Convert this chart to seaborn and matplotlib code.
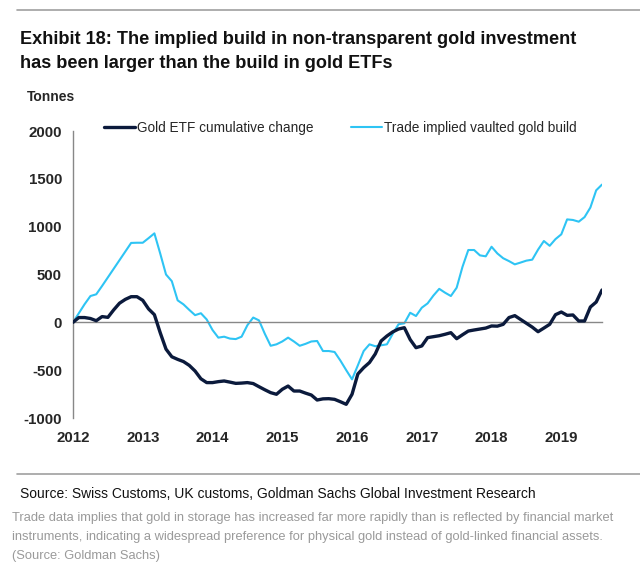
import numpy as np
import pandas as pd
import matplotlib
matplotlib.use("Agg")
import matplotlib.pyplot as plt
import seaborn as sns

# Monthly values, Jan 2012 .. Aug 2019 (tonnes)
etf_change = [
    0, 50, 50, 40, 17, 60, 52, 130, 200, 240, 268, 268,
    230, 140, 80, -108, -280, -360, -387, -410, -450, -509, -590, -630,
    -630, -620, -613, -625, -638, -635, -630, -640, -673, -705, -735, -752,
    -700, -666, -718, -718, -740, -760, -812, -800, -798, -805, -830, -857,
    -752, -540, -474, -420, -330, -195, -143, -100, -70, -56, -180, -265,
    -247, -160, -150, -140, -125, -108, -171, -130, -91, -80, -70, -60,
    -38, -40, -21, 50, 70, 30, -10, -50, -98, -60, -21, 80,
    108, 73, 77, 14, 14, 160, 212, 338,
]
vaulted_build = [
    0, 95, 190, 275, 293, 380, 470, 560, 650, 740, 830, 832,
    832, 880, 930, 720, 500, 430, 230, 188, 130, 75, 95, 30,
    -80, -160, -150, -170, -175, -150, -30, 50, 20, -120, -245, -230,
    -200, -160, -200, -245, -225, -200, -195, -300, -300, -310, -400, -500,
    -596, -450, -300, -230, -250, -240, -230, -120, -20, -10, 100, 66,
    153, 198, 280, 350, 310, 275, 362, 580, 756, 756, 700, 690,
    790, 720, 670, 640, 606, 625, 645, 655, 760, 850, 800, 870,
    920, 1076, 1070, 1052, 1100, 1200, 1380, 1440,
]
series_names = ["Gold ETF cumulative change", "Trade implied vaulted gold build"]
year_ticks = [2012, 2013, 2014, 2015, 2016, 2017, 2018, 2019]
y_ticks = [-1000, -500, 0, 500, 1000, 1500, 2000]

months = np.arange(len(etf_change))
x_years = 2012 + months / 12.0
df = pd.DataFrame({
    "year": np.concatenate([x_years, x_years]),
    "tonnes": etf_change + vaulted_build,
    "series": [series_names[0]] * len(etf_change) + [series_names[1]] * len(vaulted_build),
})

sns.set_theme(style="white")
plt.rcParams["font.family"] = ["Liberation Sans", "DejaVu Sans"]
plt.rcParams["axes.unicode_minus"] = False

dark = "#0b1a3c"
light = "#2ec4f4"

fig = plt.figure(figsize=(6.4, 5.73), dpi=100)
fig.patch.set_facecolor("white")
ax = fig.add_axes([73 / 640, 1 - 418 / 573, (602 - 73) / 640, (418 - 131) / 573])

sns.lineplot(data=df, x="year", y="tonnes", hue="series", palette=[dark, light],
             ax=ax, legend=False, estimator=None)
ax.lines[0].set_linewidth(2.4)
ax.lines[1].set_linewidth(1.5)
ax.lines[0].set_zorder(3)

ax.set_xlim(x_years[0], x_years[-1])
ax.set_ylim(-1000, 2000)
ax.set_yticks(y_ticks)
ax.set_xticks(year_ticks)
ax.set_xlabel("")
ax.set_ylabel("")

for s in ["top", "right"]:
    ax.spines[s].set_visible(False)
ax.spines["left"].set_color("#888888")
ax.spines["left"].set_linewidth(1.0)
ax.spines["bottom"].set_position(("data", 0))
ax.spines["bottom"].set_color("#888888")
ax.spines["bottom"].set_linewidth(1.0)
ax.tick_params(axis="x", direction="out", length=4, color="#888888", labelbottom=False)
ax.tick_params(axis="y", direction="out", length=4, color="#888888", labelsize=10.8, pad=4)
for lab in ax.get_yticklabels():
    lab.set_fontweight("bold")

sec = ax.secondary_xaxis("bottom")
sec.set_xticks(year_ticks)
sec.spines["bottom"].set_visible(False)
sec.tick_params(length=0, labelsize=10.8, pad=9)
for lab in sec.get_xticklabels():
    lab.set_fontweight("bold")

handles = [plt.Line2D([], [], color=dark, lw=2.4), plt.Line2D([], [], color=light, lw=1.5)]
fig.legend(handles, series_names, loc="center left", bbox_to_anchor=(104 / 640, 1 - 128 / 573),
           ncol=2, frameon=False, fontsize=9.8, handlelength=2.3, handletextpad=0.15,
           columnspacing=2.7, borderaxespad=0, borderpad=0)

fig.text(27 / 640, 1 - 97 / 573, "Tonnes", fontsize=10, fontweight="bold", va="center")

# header and footer
fig.add_artist(plt.Line2D([17 / 640, 1], [1 - 10 / 573, 1 - 10 / 573], color="#a0a0a0", lw=1.2))
fig.text(20 / 640, 1 - 40 / 573, "Exhibit 18: The implied build in non-transparent gold investment",
         fontsize=13.1, fontweight="bold", va="center", color="#111111")
fig.text(20 / 640, 1 - 64 / 573, "has been larger than the build in gold ETFs",
         fontsize=13.1, fontweight="bold", va="center", color="#111111")

fig.add_artist(plt.Line2D([17 / 640, 1], [1 - 474 / 573, 1 - 474 / 573], color="#a0a0a0", lw=1.2))
fig.text(20 / 640, 1 - 494 / 573, "Source: Swiss Customs, UK customs, Goldman Sachs Global Investment Research",
         fontsize=10, va="center", color="#111111")
caption = ("Trade data implies that gold in storage has increased far more rapidly than is reflected by financial market\n"
           "instruments, indicating a widespread preference for physical gold instead of gold-linked financial assets.\n"
           "(Source: Goldman Sachs)")
fig.text(12 / 640, 1 - 512 / 573, caption, fontsize=9.3, va="top", color="#9a9a9a", linespacing=1.78)

fig.savefig("out.png", dpi=100)
